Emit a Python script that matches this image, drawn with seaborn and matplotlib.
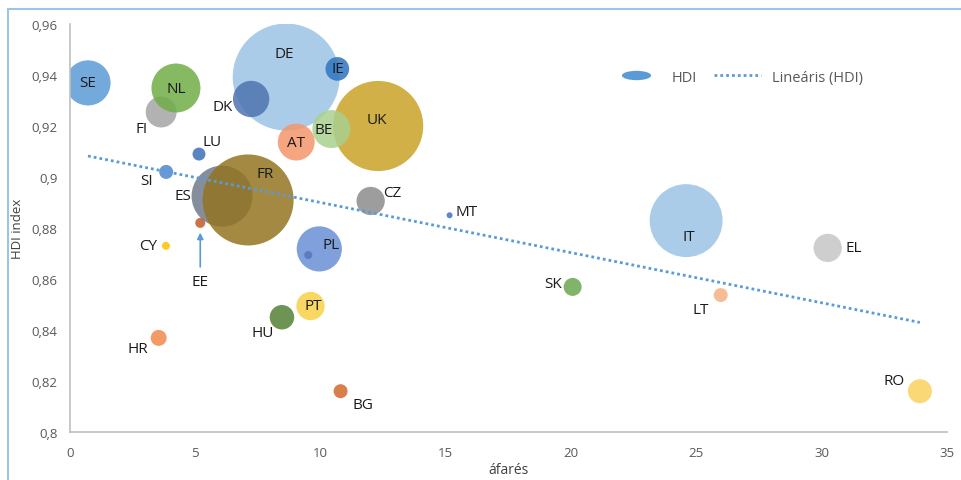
import matplotlib

matplotlib.use("Agg")
import matplotlib.pyplot as plt
import matplotlib.path as mpath
from matplotlib.lines import Line2D
from matplotlib.patches import Rectangle
from matplotlib.ticker import FuncFormatter, MultipleLocator
from matplotlib.transforms import Affine2D
import pandas as pd
import seaborn as sns

# data
countries = ["SE", "FI", "NL", "DE", "DK", "IE", "AT", "UK", "BE", "LU", "SI",
             "ES", "FR", "CZ", "MT", "EE", "PL", "LV", "CY", "PT", "HU", "HR",
             "BG", "IT", "EL", "SK", "LT", "RO"]
afares = [0.72, 3.64, 4.23, 8.63, 7.23, 10.67, 9.03, 12.30, 10.43, 5.15, 3.84,
          6.07, 7.11, 12.00, 15.15, 5.20, 9.95, 9.51, 3.83, 9.60, 8.46, 3.54,
          10.80, 24.59, 30.24, 20.06, 25.97, 33.92]
hdi = [0.9369, 0.9255, 0.9349, 0.9392, 0.9306, 0.9424, 0.9137, 0.9200, 0.9188,
       0.9090, 0.9020, 0.8925, 0.8910, 0.8906, 0.8850, 0.8820, 0.8718, 0.8694,
       0.8730, 0.8494, 0.8450, 0.8369, 0.8160, 0.8829, 0.8722, 0.8569, 0.8537,
       0.8160]
bubble = [51, 24, 60, 286, 33, 14, 34, 203, 36, 4.2, 4.9, 93, 207, 20, 0.9,
          2.5, 51, 1.6, 1.6, 20, 15, 6.4, 4.9, 133, 20, 8.1, 4.9, 14.4]
colors = ["#5B9BD5", "#A5A5A5", "#70AD47", "#9DC3E6", "#4F74B0", "#2E75C0",
          "#F4956A", "#C9A227", "#A9D18E", "#3E6FB8", "#4F86D0", "#707A8C",
          "#937421", "#8C8C8C", "#4472C4", "#C55A2A", "#6A8FD6", "#5577BB",
          "#FFC000", "#F8D048", "#548235", "#F08A4B", "#D2692E", "#9DC3E6",
          "#C6C6C6", "#6AA84F", "#F4B183", "#FAD25E"]
# label offsets in pixels (dx, dy) relative to the bubble centre
label_offsets = {
    "SE": (0, 0), "FI": (-20, -17), "NL": (0, 0), "DE": (-2, 24), "DK": (-28, -8),
    "IE": (1, 0), "AT": (0, 0), "UK": (-1, 7), "BE": (-8, 0), "LU": (13, 13),
    "SI": (-20, -9), "ES": (-39, 1), "FR": (17, 26), "CZ": (22, 8), "MT": (17, 4),
    "EE": (0, -59), "PL": (12, 4), "CY": (-18, 0), "PT": (3, 1), "HU": (-19, -15),
    "HR": (-21, -11), "BG": (22, -13), "IT": (3, -16), "EL": (26, 0),
    "SK": (-19, 3), "LT": (-20, -14), "RO": (-26, 11),
}

df = pd.DataFrame({"country": countries, "afares": afares, "hdi": hdi,
                   "bubble": bubble})
palette = dict(zip(countries, colors))

sns.set_style("white")
plt.rcParams["font.family"] = ["Open Sans", "DejaVu Sans"]

fig = plt.figure(figsize=(9.61, 4.81), dpi=100)
ax = fig.add_axes([0.0728, 0.0998, 0.9126, 0.8482])

# bubble value = (radius in px)^2 / 10  ->  marker area in pt^2
px_per_pt = 100 / 72
max_val = 300
sns.scatterplot(data=df, x="afares", y="hdi", hue="country", palette=palette,
                size="bubble", sizes=(0, 10 * (2 / px_per_pt) ** 2 * max_val),
                size_norm=(0, max_val), alpha=0.85, linewidth=0, legend=False,
                ax=ax, zorder=2)

sns.regplot(data=df, x="afares", y="hdi", scatter=False, ci=None, ax=ax,
            line_kws=dict(color="#5B9BD5", lw=2.0, ls=(0, (1, 1.1)), zorder=3))

for name, x, y in zip(countries, afares, hdi):
    if name not in label_offsets:
        continue
    dx, dy = label_offsets[name]
    if name == "EE":
        ax.annotate("", xy=(x, y), xytext=(0, -44), textcoords="offset pixels",
                    arrowprops=dict(arrowstyle="-|>", color="#5B9BD5", lw=1.2,
                                    shrinkA=0, shrinkB=7, mutation_scale=9),
                    zorder=4)
    ax.annotate(name, xy=(x, y), xytext=(dx, dy), textcoords="offset pixels",
                ha="center", va="center", fontsize=11, color="#1a1a1a", zorder=5)

ax.set_xlim(0, 35)
ax.set_ylim(0.8, 0.96)
ax.xaxis.set_major_locator(MultipleLocator(5))
ax.yaxis.set_major_locator(MultipleLocator(0.02))
ax.yaxis.set_major_formatter(FuncFormatter(
    lambda v, _: f"{v:.2f}".rstrip("0").rstrip(".").replace(".", ",")))
ax.tick_params(axis="both", length=0, labelsize=9.5, labelcolor="#595959")
ax.tick_params(axis="y", pad=9)
ax.tick_params(axis="x", pad=10)
for side in ["top", "right"]:
    ax.spines[side].set_visible(False)
for side in ["left", "bottom"]:
    ax.spines[side].set_color("#BFBFBF")
    ax.spines[side].set_linewidth(1.2)

ax.set_xlabel("áfarés", fontsize=10, color="#404040", labelpad=2)
ax.set_ylabel("HDI index", fontsize=9.5, color="#404040", labelpad=5)

ellipse = mpath.Path.unit_circle().transformed(Affine2D().scale(1, 0.32))
handles = [
    Line2D([], [], ls="none", marker=ellipse, markersize=21,
           markerfacecolor="#5B9BD5", markeredgewidth=0),
    Line2D([], [], color="#5B9BD5", lw=2.0, ls=(0, (1, 1.1))),
]
ax.legend(handles, ["HDI", "Lineáris (HDI)"], loc="center", ncol=2,
          bbox_to_anchor=(0.762, 0.87), frameon=False, fontsize=10.5,
          labelcolor="#595959", handlelength=3.2, columnspacing=1.2,
          handletextpad=0.8)

fig.patches.append(Rectangle((8 / 961, -0.2), 1.2, 1.2 - 10 / 481,
                             transform=fig.transFigure, fill=False,
                             edgecolor="#9DC3E6", lw=1.5, zorder=0))

fig.savefig("out.png", dpi=100)
